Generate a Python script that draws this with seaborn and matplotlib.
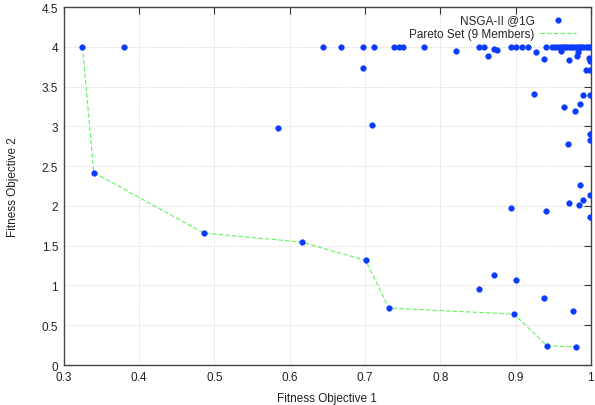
import matplotlib
matplotlib.use("Agg")
import matplotlib.pyplot as plt
import seaborn as sns
import pandas as pd

# Population (NSGA-II @1G): objective 1 and objective 2
obj1 = [0.325, 0.380, 0.644, 0.668, 0.697, 0.712, 0.738, 0.745, 0.750, 0.779,
        0.851, 0.858, 0.894, 0.901, 0.909, 0.917, 0.940, 0.949, 0.952, 0.956,
        0.960, 0.963, 0.966, 0.969, 0.972, 0.975, 0.978, 0.981, 0.984, 0.987,
        0.990, 0.993, 0.996, 0.999,
        0.821, 0.863, 0.872, 0.875, 0.927, 0.938, 0.960, 0.971, 0.982, 0.983,
        0.998, 0.999, 0.993, 0.999,
        0.697, 0.709, 0.585,
        0.925, 0.989, 0.999, 0.986, 0.965, 0.979, 0.999, 0.999, 0.970,
        0.986, 0.999, 0.971, 0.989, 0.984, 0.941, 0.999, 0.894,
        0.872, 0.852, 0.900, 0.938, 0.976,
        0.340, 0.486, 0.616, 0.701, 0.732, 0.898, 0.942, 0.980]
obj2 = [4.00, 4.00, 4.00, 4.00, 4.00, 4.00, 4.00, 4.00, 4.00, 4.00,
        4.00, 4.00, 4.00, 4.00, 4.00, 4.00, 4.00, 4.00, 4.00, 4.00,
        4.00, 4.00, 4.00, 4.00, 4.00, 4.00, 4.00, 4.00, 4.00, 4.00,
        4.00, 4.00, 4.00, 4.00,
        3.95, 3.89, 3.97, 3.96, 3.93, 3.85, 3.95, 3.84, 3.89, 3.93,
        3.86, 3.82, 3.71, 3.71,
        3.74, 3.02, 2.98,
        3.41, 3.39, 3.39, 3.28, 3.24, 3.19, 2.91, 2.83, 2.785,
        2.265, 2.14, 2.04, 2.07, 2.01, 1.94, 1.855, 1.98,
        1.13, 0.95, 1.07, 0.84, 0.68,
        2.42, 1.66, 1.545, 1.315, 0.716, 0.64, 0.24, 0.23]

# Pareto set (9 members)
pareto_f1 = [0.325, 0.340, 0.486, 0.616, 0.701, 0.732, 0.898, 0.942, 0.980]
pareto_f2 = [4.00, 2.42, 1.66, 1.545, 1.315, 0.716, 0.64, 0.24, 0.23]

x_ticks = [0.3, 0.4, 0.5, 0.6, 0.7, 0.8, 0.9, 1.0]
x_tick_labels = ["0.3", "0.4", "0.5", "0.6", "0.7", "0.8", "0.9", "1"]
y_ticks = [0, 0.5, 1, 1.5, 2, 2.5, 3, 3.5, 4, 4.5]
y_tick_labels = ["0", "0.5", "1", "1.5", "2", "2.5", "3", "3.5", "4", "4.5"]

sns.set_theme(style="white")
plt.rcParams["font.family"] = ["Liberation Sans", "DejaVu Sans"]

pop = pd.DataFrame({"f1": obj1, "f2": obj2})
par = pd.DataFrame({"f1": pareto_f1, "f2": pareto_f2})

fig = plt.figure(figsize=(5.95, 4.06), dpi=100)
ax = fig.add_axes([0.107, 0.0985, 0.886, 0.8815])

sns.lineplot(data=par, x="f1", y="f2", sort=False, ax=ax, color="#5cf55c",
             linestyle=(0, (4, 2)), linewidth=0.8, label="Pareto Set (9 Members)",
             zorder=2)
sns.scatterplot(data=pop, x="f1", y="f2", ax=ax, color="#0a3cff", s=17,
                marker="o", edgecolor="#0a3cff", linewidth=0.3,
                label="NSGA-II @1G", zorder=3)

ax.set_xlim(0.3, 1.0)
ax.set_ylim(0, 4.5)
ax.set_xticks(x_ticks)
ax.set_xticklabels(x_tick_labels)
ax.set_yticks(y_ticks)
ax.set_yticklabels(y_tick_labels)
ax.set_xlabel("Fitness Objective 1", fontsize=8.5, color="#222222", labelpad=7)
ax.set_ylabel("Fitness Objective 2", fontsize=8.5, color="#222222", labelpad=16)

ax.grid(True, color="#c8c8c8", linestyle=(0, (1, 1.5)), linewidth=0.6)
ax.set_axisbelow(True)
ax.tick_params(axis="both", which="major", direction="in", length=5, width=0.8,
               color="#333333", labelsize=8.5, labelcolor="#222222",
               top=True, right=True, pad=4)
for sp in ax.spines.values():
    sp.set_color("#444444")
    sp.set_linewidth(1.0)
    sp.set_visible(True)

handles, labels = ax.get_legend_handles_labels()
order = [labels.index("NSGA-II @1G"), labels.index("Pareto Set (9 Members)")]
leg = ax.legend([handles[i] for i in order], [labels[i] for i in order],
                loc="upper right", bbox_to_anchor=(0.985, 1.0), frameon=False,
                markerfirst=False, fontsize=8.5, handlelength=3.0,
                handletextpad=0.5, labelspacing=0.15, borderaxespad=0.2)

fig.savefig("out.png", dpi=100)
